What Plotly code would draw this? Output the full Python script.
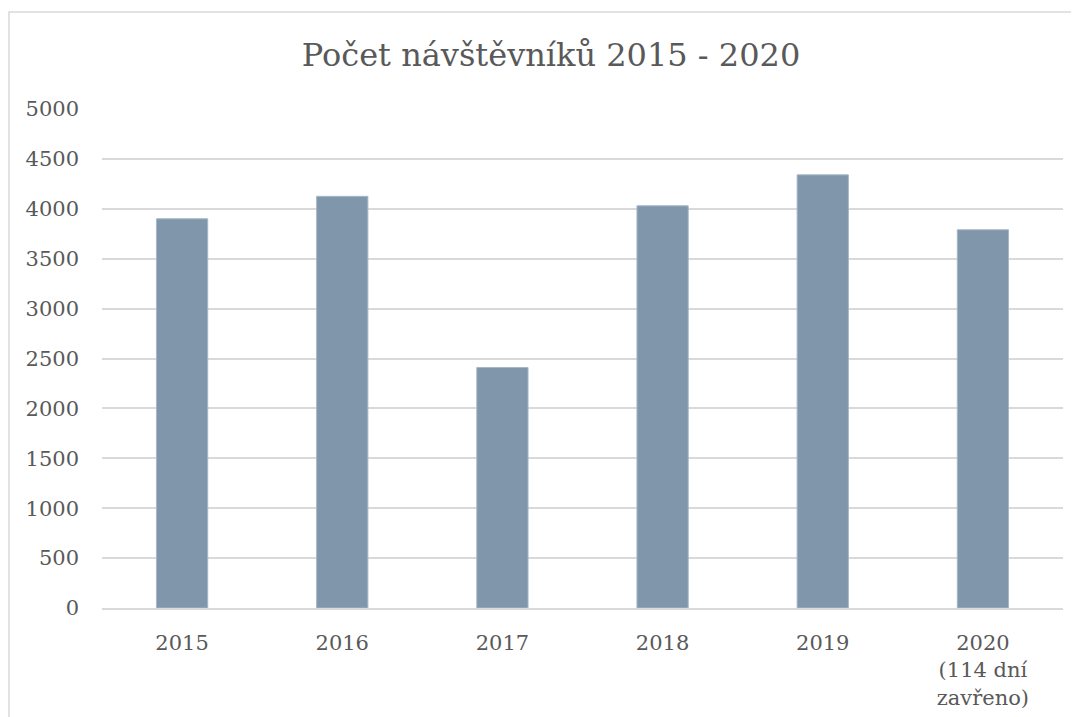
import plotly.graph_objects as go

categories = ["2015", "2016", "2017", "2018", "2019", "2020<br>(114 dní<br>zavřeno)"]
visitors = [3900, 4125, 2410, 4030, 4340, 3790]
y_ticks = [0, 500, 1000, 1500, 2000, 2500, 3000, 3500, 4000, 4500, 5000]

# page body adds an 8px offset; figure coordinates compensate for it
W, H = 1071, 709
L, T = 94, 101
pw, ph = 961, 499
R, B = W - L - pw, H - T - ph

font_fam = "DejaVu Serif"
txt = "#595959"

fig = go.Figure(go.Bar(
    x=categories, y=visitors,
    marker=dict(color="#7F96AB", line=dict(color="#A7B7C7", width=1)),
))

fig.update_layout(
    width=W, height=H,
    margin=dict(l=L, r=R, t=T, b=B),
    paper_bgcolor="white", plot_bgcolor="white",
    bargap=0.68,
    showlegend=False,
    font=dict(family=font_fam, color=txt, size=21),
    title=dict(text="Počet návštěvníků 2015 - 2020", x=543 / W, xref="container", xanchor="center",
               y=1 - 47 / H, yref="container", yanchor="middle",
               font=dict(family=font_fam, size=32, color=txt)),
    xaxis=dict(showgrid=False, showline=True, linecolor="#d9d9d9", linewidth=1.5, automargin=False,
               ticks="", tickfont=dict(size=21, color=txt), ticklabelstandoff=15),
    yaxis=dict(range=[0, 5000], tickvals=y_ticks, showgrid=True, gridcolor="#d9d9d9", automargin=False,
               gridwidth=1.5, zeroline=False, showline=False, ticks="",
               tickfont=dict(size=21, color=txt), ticklabelstandoff=22),
    shapes=[dict(type="rect", xref="paper", yref="paper",
                 x0=(1 - L) / pw, x1=1.2, y0=-0.5, y1=(H - B - 4) / ph,
                 line=dict(color="#d9d9d9", width=1.5), layer="below")],
)

fig.write_html("out.html")
